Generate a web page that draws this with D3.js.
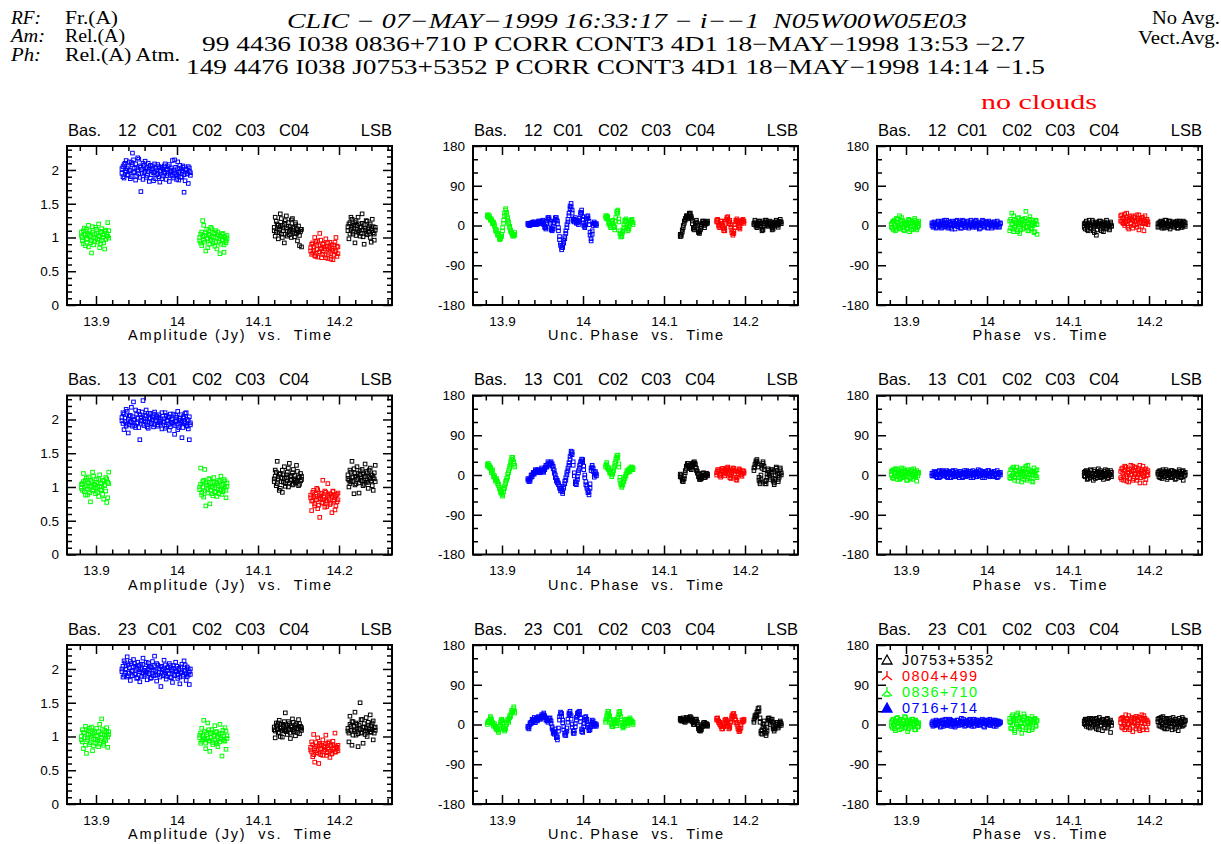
<!DOCTYPE html>
<html>
<head>
<meta charset="utf-8">
<script src="https://cdn.jsdelivr.net/npm/d3@7"></script>
<style>
  body { margin: 0; background: #fff; }
  svg text { font-family: "Liberation Sans", Arial, sans-serif; fill: #000; }
  svg text.serif { font-family: "Liberation Serif", "DejaVu Serif", serif; }
  .axis line { stroke: #000; stroke-width: 1.5; }
  .axis text { font-size: 13.5px; }
</style>
</head>
<body>
<svg id="chart" width="1221" height="844"></svg>
<script>
// ---- data ----
var baselines = ['12', '13', '23'];
var scanSources = ['0836+710', '0716+714', '0836+710', 'J0753+5352', '0804+499', 'J0753+5352'];
var legendSources = ['J0753+5352', '0804+499', '0836+710', '0716+714'];
var timeTicks = [13.9, 14, 14.1, 14.2];
var ampTicks = [0, 0.5, 1, 1.5, 2];
var phaseTicks = [-180, -90, 0, 90, 180];
var colLabels = ['Amplitude (Jy)  vs.  Time', 'Unc. Phase  vs.  Time', 'Phase  vs.  Time'];
var titleWords = ['Bas.', null, 'C01', 'C02', 'C03', 'C04'];

// integration times (hours) for each scan
var timesG1 = [13.8820, 13.8832, 13.8845, 13.8857, 13.8870, 13.8882, 13.8895, 13.8907, 13.8920, 13.8932, 13.8945, 13.8957, 13.8970, 13.8982,
               13.8995, 13.9007, 13.9020, 13.9032, 13.9045, 13.9057, 13.9070, 13.9082, 13.9095, 13.9107, 13.9120, 13.9132, 13.9145, 13.9157];
var timesB = [13.9320, 13.9333, 13.9346, 13.9359, 13.9372, 13.9385, 13.9398, 13.9411, 13.9424, 13.9437, 13.9450, 13.9463, 13.9476, 13.9489,
              13.9502, 13.9515, 13.9528, 13.9541, 13.9554, 13.9567, 13.9580, 13.9593, 13.9606, 13.9619, 13.9632, 13.9645, 13.9658, 13.9671,
              13.9684, 13.9697, 13.9710, 13.9723, 13.9736, 13.9749, 13.9762, 13.9775, 13.9788, 13.9801, 13.9814, 13.9827, 13.9840, 13.9853,
              13.9866, 13.9879, 13.9892, 13.9905, 13.9918, 13.9931, 13.9944, 13.9957, 13.9970, 13.9983, 13.9996, 14.0009, 14.0022, 14.0035,
              14.0048, 14.0061, 14.0074, 14.0087, 14.0100, 14.0113, 14.0126, 14.0139, 14.0152, 14.0165];
var timesG2 = [14.0280, 14.0292, 14.0305, 14.0317, 14.0330, 14.0342, 14.0355, 14.0367, 14.0380, 14.0392, 14.0405, 14.0417, 14.0430, 14.0442,
               14.0455, 14.0467, 14.0480, 14.0492, 14.0505, 14.0517, 14.0530, 14.0542, 14.0555, 14.0567, 14.0580, 14.0592, 14.0605, 14.0617];
var timesK1 = [14.1200, 14.1212, 14.1225, 14.1237, 14.1250, 14.1262, 14.1275, 14.1287, 14.1300, 14.1312, 14.1325, 14.1337, 14.1350, 14.1362,
               14.1375, 14.1387, 14.1400, 14.1412, 14.1425, 14.1437, 14.1450, 14.1462, 14.1475, 14.1487, 14.1500, 14.1512, 14.1525, 14.1537];
var timesR = [14.1650, 14.1662, 14.1675, 14.1687, 14.1700, 14.1712, 14.1725, 14.1737, 14.1750, 14.1762, 14.1775, 14.1787, 14.1800, 14.1812,
              14.1825, 14.1837, 14.1850, 14.1862, 14.1875, 14.1887, 14.1900, 14.1912, 14.1925, 14.1937, 14.1950, 14.1962, 14.1975, 14.1987];
var timesK2 = [14.2110, 14.2122, 14.2135, 14.2147, 14.2160, 14.2172, 14.2185, 14.2197, 14.2210, 14.2222, 14.2235, 14.2247, 14.2260, 14.2272,
               14.2285, 14.2297, 14.2310, 14.2322, 14.2335, 14.2347, 14.2360, 14.2372, 14.2385, 14.2397, 14.2410, 14.2422, 14.2435, 14.2447];
var scanTimes = [timesG1, timesB, timesG2, timesK1, timesR, timesK2];

// amplitudes (Jy), two sub-bands per baseline, one list per scan
var amp12a = [
  [1.02, 0.95, 1.10, 1.05, 0.88, 1.12, 0.98, 1.18, 1.03, 0.92, 0.77, 1.08, 1.00, 0.94, 1.15, 1.06, 0.97, 1.20, 1.01, 0.90, 1.09, 0.96, 1.04, 0.83, 1.11, 1.02, 1.22, 0.99],
  [1.95, 2.05, 1.88, 2.10, 1.99, 2.02, 1.92, 2.12, 2.00, 1.90, 2.08, 2.15, 1.97, 1.85, 2.03, 2.18, 1.94, 2.06, 1.68, 2.01, 2.10, 1.96, 2.13, 1.89, 2.04, 1.98, 1.83, 2.07, 1.93, 2.02, 1.96, 2.09, 1.87,
   2.00, 1.94, 2.05, 1.82, 1.98, 2.03, 1.91, 2.06, 1.97, 1.86, 2.01, 1.95, 2.08, 1.92, 1.99, 2.14, 1.88, 1.96, 2.04, 1.93, 2.12, 1.85, 1.98, 2.02, 1.90, 2.06, 1.67, 1.97, 2.00, 1.94, 1.80, 2.03, 1.96],
  [1.00, 0.92, 1.08, 1.25, 0.96, 1.03, 0.80, 1.12, 0.98, 1.05, 0.90, 1.15, 1.01, 0.94, 1.07, 0.87, 1.10, 0.99, 1.04, 0.93, 0.76, 1.02, 0.96, 1.06, 0.89, 1.00, 0.95, 1.03],
  [1.15, 1.30, 1.08, 1.20, 0.98, 1.12, 1.35, 1.05, 1.18, 1.10, 0.92, 1.25, 1.14, 1.02, 1.22, 1.09, 1.16, 1.00, 1.28, 1.11, 1.06, 1.19, 1.13, 0.95, 1.08, 0.88, 1.12, 0.86],
  [0.85, 0.75, 0.92, 0.80, 1.00, 0.72, 0.88, 0.95, 0.78, 1.06, 0.83, 0.70, 0.90, 0.86, 0.74, 0.98, 0.81, 0.69, 0.87, 0.93, 0.76, 0.84, 0.67, 0.89, 0.79, 1.00, 0.72, 0.86],
  [1.10, 0.98, 1.22, 1.30, 1.15, 1.05, 1.18, 0.92, 1.25, 1.12, 1.08, 1.20, 1.02, 1.16, 1.35, 1.11, 0.90, 1.14, 1.06, 1.24, 1.09, 1.17, 1.00, 1.13, 1.27, 1.07, 0.96, 1.15]
];
var amp12b = [
  [1.08, 1.00, 0.91, 1.14, 1.04, 0.97, 1.06, 0.86, 1.10, 1.01, 0.95, 1.16, 0.89, 1.05, 0.99, 1.12, 0.93, 1.03, 0.85, 1.07, 1.13, 1.00, 0.92, 1.09, 0.97, 1.06, 1.02, 1.10],
  [2.02, 1.90, 2.08, 1.97, 2.14, 1.93, 2.05, 1.99, 1.87, 2.11, 2.25, 1.96, 2.03, 2.09, 1.91, 2.00, 2.16, 1.89, 2.04, 1.95, 1.86, 2.07, 1.98, 2.02, 1.92, 2.10, 2.01, 1.88, 1.99, 2.06, 1.84, 1.97, 2.03,
   1.93, 2.08, 1.90, 1.99, 2.04, 1.87, 2.01, 1.95, 2.09, 2.00, 1.92, 2.05, 1.83, 1.97, 2.03, 1.91, 2.00, 2.15, 1.94, 1.86, 2.02, 1.96, 2.07, 1.89, 1.99, 2.04, 1.93, 1.84, 2.01, 1.95, 2.05, 1.98, 1.92],
  [0.95, 1.05, 0.88, 1.02, 1.18, 0.93, 1.07, 0.99, 0.85, 1.10, 1.03, 0.96, 1.13, 0.91, 1.00, 1.06, 0.94, 0.83, 1.08, 0.98, 1.02, 0.90, 1.05, 0.97, 0.78, 1.01, 0.92, 0.98],
  [1.10, 1.02, 1.24, 1.13, 1.18, 1.07, 1.16, 1.28, 1.00, 1.14, 1.21, 1.05, 1.32, 1.09, 1.17, 1.04, 1.12, 1.26, 1.08, 1.15, 1.01, 1.22, 1.06, 1.10, 1.17, 1.03, 1.09, 1.12],
  [0.80, 0.90, 0.77, 0.86, 0.73, 0.94, 0.82, 0.71, 0.88, 0.79, 0.96, 0.84, 0.75, 0.91, 0.83, 0.70, 0.87, 0.92, 0.78, 0.85, 0.68, 0.89, 0.81, 0.74, 0.93, 0.80, 0.87, 0.76],
  [1.16, 1.20, 1.05, 1.12, 1.27, 1.08, 1.14, 1.22, 1.03, 1.18, 1.30, 1.10, 1.15, 1.06, 1.21, 1.01, 1.19, 1.11, 1.25, 1.04, 1.13, 1.08, 1.20, 0.93, 1.10, 1.16, 1.05, 1.11]
];
var amp13a = [
  [0.98, 1.05, 1.20, 0.93, 1.10, 1.02, 0.88, 1.15, 1.00, 0.78, 1.08, 1.22, 0.96, 1.04, 0.90, 1.12, 1.01, 0.86, 1.18, 1.06, 0.95, 1.10, 0.82, 1.03, 1.14, 0.77, 1.07, 1.22],
  [1.98, 2.10, 1.85, 2.02, 2.15, 1.93, 1.80, 2.05, 1.97, 2.18, 1.90, 2.26, 2.00, 1.88, 2.08, 1.95, 2.12, 1.70, 2.03, 1.99, 2.28, 1.91, 2.06, 2.14, 1.96, 1.87, 2.01, 2.09, 1.94, 2.04, 1.89, 2.11, 1.98,
   2.02, 1.92, 2.07, 1.95, 2.00, 1.86, 2.05, 1.97, 2.10, 1.90, 1.99, 2.03, 1.84, 2.08, 1.96, 2.01, 1.93, 1.78, 2.06, 1.98, 2.12, 1.88, 2.02, 1.95, 1.73, 2.04, 1.97, 2.09, 1.91, 2.00, 1.86, 1.70, 1.95],
  [1.00, 1.28, 0.92, 1.08, 0.85, 1.26, 0.72, 1.03, 0.96, 1.12, 0.75, 1.05, 0.90, 0.99, 1.14, 0.93, 1.07, 0.86, 1.02, 1.10, 0.95, 1.16, 0.89, 1.04, 0.98, 1.09, 0.84, 1.01],
  [1.12, 1.25, 1.02, 1.38, 1.15, 0.95, 1.20, 1.08, 0.92, 1.18, 1.30, 1.05, 1.14, 1.22, 1.00, 1.35, 1.10, 1.17, 1.03, 1.26, 1.12, 1.06, 1.32, 1.09, 1.15, 1.04, 1.20, 1.11],
  [0.88, 0.65, 0.80, 0.95, 0.72, 0.86, 0.98, 0.68, 0.83, 0.55, 0.90, 0.76, 1.10, 0.82, 0.70, 0.92, 0.79, 1.05, 0.85, 0.74, 0.89, 0.62, 0.94, 0.81, 0.66, 0.87, 0.78, 0.91],
  [1.12, 1.00, 1.25, 1.08, 1.38, 1.15, 0.90, 1.20, 1.05, 1.30, 1.13, 0.91, 1.18, 1.10, 1.26, 1.02, 1.16, 1.34, 1.07, 1.21, 0.98, 1.14, 1.28, 1.09, 1.17, 0.95, 1.12, 1.32]
];
var amp13b = [
  [1.04, 0.95, 1.08, 1.00, 0.88, 1.13, 0.97, 1.06, 0.91, 1.10, 1.01, 0.94, 1.16, 1.03, 0.99, 1.07, 0.92, 1.11, 1.00, 0.96, 1.05, 0.89, 1.09, 1.02, 0.94, 1.12, 0.84, 1.05],
  [2.03, 1.94, 2.08, 1.97, 1.90, 2.12, 2.00, 1.92, 2.06, 1.96, 2.04, 1.99, 1.91, 2.14, 1.95, 2.02, 1.88, 2.07, 1.98, 2.11, 1.93, 2.01, 1.97, 2.05, 1.89, 2.09, 1.96, 2.02, 1.94, 2.00, 2.08, 1.92, 1.99,
   2.05, 1.90, 2.03, 1.97, 1.93, 2.10, 1.96, 2.01, 1.87, 2.06, 1.98, 1.92, 2.04, 1.89, 2.00, 1.95, 2.08, 1.91, 1.97, 2.03, 1.85, 1.99, 1.93, 2.07, 1.96, 1.88, 2.02, 1.94, 2.10, 1.90, 1.98, 2.04, 1.92],
  [0.96, 1.04, 0.88, 1.00, 1.10, 0.94, 1.06, 0.98, 0.91, 1.03, 1.12, 0.95, 1.01, 0.87, 1.07, 0.99, 0.92, 1.05, 0.97, 0.90, 1.08, 0.96, 1.02, 0.93, 1.11, 1.00, 0.95, 1.06],
  [1.08, 1.16, 1.22, 1.05, 1.12, 1.19, 0.98, 1.14, 1.25, 1.07, 1.13, 1.01, 1.18, 1.09, 1.28, 1.06, 1.15, 1.11, 1.21, 1.04, 1.17, 1.10, 1.08, 1.23, 1.02, 1.14, 1.09, 1.16],
  [0.84, 0.79, 0.92, 0.86, 0.75, 0.89, 0.81, 0.96, 0.73, 0.87, 0.83, 0.91, 0.77, 0.85, 0.94, 0.80, 0.71, 0.88, 0.82, 0.90, 0.76, 0.86, 0.93, 0.79, 0.84, 0.72, 0.89, 0.81],
  [1.18, 1.10, 1.05, 1.22, 1.14, 1.08, 1.27, 1.03, 1.16, 1.11, 1.20, 1.06, 1.24, 1.13, 1.09, 1.19, 1.04, 1.15, 1.23, 1.10, 1.07, 1.25, 1.12, 1.18, 1.02, 1.14, 1.21, 1.08]
];
var amp23a = [
  [0.95, 1.10, 0.82, 1.05, 1.15, 0.75, 0.98, 1.08, 0.88, 1.02, 1.14, 0.79, 0.96, 1.06, 0.90, 1.12, 1.00, 0.85, 1.18, 0.94, 1.26, 1.03, 0.87, 1.09, 0.97, 1.13, 0.84, 1.07],
  [2.00, 1.88, 2.12, 1.95, 2.05, 2.18, 1.90, 2.02, 1.83, 2.08, 1.97, 2.14, 1.92, 2.04, 1.86, 2.10, 1.99, 1.81, 2.07, 1.94, 2.16, 1.89, 2.01, 1.96, 1.84, 2.09, 1.93, 2.03, 1.87, 2.11, 1.98, 2.19, 1.91,
   1.82, 2.06, 1.95, 2.00, 1.74, 2.04, 1.90, 2.13, 1.97, 1.85, 2.02, 1.93, 2.08, 1.88, 1.99, 1.80, 2.05, 1.92, 2.10, 1.96, 1.86, 2.01, 1.78, 1.94, 2.07, 1.89, 2.12, 1.97, 1.83, 2.03, 1.91, 1.77, 2.00],
  [1.02, 0.90, 1.12, 0.95, 1.24, 0.98, 0.82, 1.06, 1.20, 0.93, 0.78, 1.04, 1.10, 0.88, 1.00, 1.16, 0.92, 1.07, 0.85, 1.03, 1.18, 0.96, 0.71, 1.09, 0.94, 1.13, 0.81, 1.01],
  [1.10, 0.98, 1.20, 1.15, 1.05, 1.24, 1.00, 1.12, 0.99, 1.18, 1.08, 1.35, 1.14, 1.03, 1.22, 1.10, 0.97, 1.16, 1.26, 1.07, 1.13, 1.01, 1.19, 1.11, 1.25, 1.04, 1.15, 1.09],
  [0.80, 0.92, 0.70, 1.03, 0.62, 0.85, 0.76, 0.98, 0.60, 0.88, 0.73, 0.82, 0.95, 0.78, 0.86, 1.02, 0.72, 0.90, 0.81, 0.69, 0.87, 0.75, 0.93, 0.83, 1.05, 0.77, 0.84, 0.79],
  [1.08, 0.92, 1.30, 1.15, 0.87, 1.22, 1.10, 1.36, 1.02, 1.18, 0.85, 1.12, 1.50, 1.05, 1.25, 0.90, 1.14, 1.08, 1.28, 1.00, 1.17, 1.10, 1.32, 1.06, 1.20, 0.95, 1.13, 1.09]
];
var amp23b = [
  [1.00, 0.92, 1.06, 0.98, 0.87, 1.10, 0.95, 1.03, 1.12, 0.91, 0.99, 1.05, 0.86, 1.08, 0.96, 1.01, 0.93, 1.07, 0.89, 1.04, 0.97, 1.11, 0.90, 1.02, 0.94, 1.06, 0.99, 1.03],
  [1.96, 2.04, 1.91, 2.09, 1.99, 1.88, 2.06, 1.94, 2.11, 1.97, 1.90, 2.03, 2.08, 1.93, 2.01, 1.87, 2.05, 1.96, 2.00, 1.89, 2.07, 1.98, 1.92, 2.10, 1.95, 1.99, 2.04, 1.86, 2.02, 1.94, 1.90, 2.05, 1.97,
   2.08, 1.91, 2.00, 1.88, 2.03, 1.95, 1.99, 1.92, 2.06, 1.89, 1.98, 2.02, 1.93, 2.05, 1.87, 1.97, 2.01, 1.90, 1.96, 2.04, 1.92, 1.99, 1.88, 2.03, 1.95, 1.91, 1.98, 2.06, 1.93, 1.89, 2.00, 1.96, 1.92],
  [0.98, 1.05, 0.93, 1.01, 0.96, 1.08, 0.90, 1.03, 0.97, 1.10, 0.94, 0.99, 1.06, 0.91, 1.02, 0.95, 1.07, 0.89, 1.00, 1.04, 0.92, 0.98, 1.05, 0.96, 1.01, 0.93, 1.08, 0.97],
  [1.14, 1.08, 1.17, 1.11, 1.20, 1.06, 1.13, 1.18, 1.09, 1.15, 1.22, 1.10, 1.07, 1.16, 1.12, 1.19, 1.05, 1.14, 1.10, 1.21, 1.08, 1.17, 1.12, 1.06, 1.15, 1.19, 1.11, 1.13],
  [0.84, 0.77, 0.88, 0.73, 0.82, 0.91, 0.79, 0.86, 0.75, 0.90, 0.81, 0.87, 0.72, 0.85, 0.80, 0.89, 0.76, 0.83, 0.92, 0.78, 0.86, 0.74, 0.88, 0.81, 0.77, 0.85, 0.82, 0.87],
  [1.12, 1.05, 1.18, 1.09, 1.22, 1.02, 1.15, 1.08, 1.20, 1.11, 1.04, 1.17, 1.10, 1.25, 1.06, 1.14, 1.19, 1.03, 1.12, 1.08, 1.21, 1.13, 1.07, 1.16, 1.10, 1.23, 1.05, 1.14]
];

// uncorrected phases (deg), two sub-bands
var uph12a = [
  [20, 24, 18, 15, 12, 8, 5, -2, -8, -14, -18, -22, -28, -30, -25, -12, 5, 22, 35, 30, 18, 8, -2, -10, -15, -20, -24, -22],
  [2, 5, 0, 3, 6, 4, 8, 5, 2, 6, 10, 7, 4, 8, 12, 6, -2, -8, 4, 15, 18, 10, -6, -12, -8, 5, 14, 18, 10, -5, -25, -40, -55,
   -50, -40, -30, -18, -5, 8, 22, 38, 50, 35, 15, 8, 18, 5, 12, 2, 10, 25, 35, 20, 5, -5, 2, 15, 22, 10, -15, -35, -20, 0, 5, 2, 4],
  [18, 22, 15, 8, 0, -5, 5, 12, 0, -10, 10, 28, 35, 15, -12, -22, -25, -15, -5, 8, 15, 2, -12, -8, 5, 12, 8, 2],
  [-25, -20, -15, -5, 5, 12, 18, 22, 15, 25, 28, 20, 10, -5, -10, 0, 8, 5, -12, -18, -10, -2, 5, 10, -5, 3, 8, 5],
  [12, 8, 2, -5, 5, 10, 0, -8, -12, 5, 18, 15, 8, 12, 2, -10, -22, -18, -5, 8, 15, 10, 0, -8, 5, 12, 8, 10],
  [5, 8, 2, -5, 0, 6, 10, 4, -8, -10, 0, 8, 12, 5, -2, 4, 10, 6, -5, -8, 2, 8, 12, 5, -4, 6, 14, 8]
];
var uph12b = [
  [24, 18, 22, 12, 15, 4, 8, 2, -12, -10, -22, -18, -32, -26, -20, -5, 12, 28, 38, 24, 12, 4, -6, -14, -18, -24, -20, -16],
  [5, 0, 4, 6, 2, 8, 5, 2, 6, 3, 7, 10, 8, 4, 9, 2, -5, -3, 10, 18, 14, 5, -10, -8, -2, 10, 18, 12, 4, -12, -32, -45, -50,
   -45, -35, -25, -12, 2, 14, 28, 44, 42, 28, 10, 14, 12, 10, 6, 8, 16, 30, 28, 14, 0, -2, 8, 20, 16, 2, -22, -30, -12, 4, 8, 5, 0],
  [22, 15, 20, 4, 5, -2, 10, 6, -5, -4, 18, 32, 28, 8, -18, -26, -20, -10, 2, 12, 10, -4, -8, -2, 10, 8, 14, 6],
  [-20, -24, -10, 0, 10, 16, 22, 18, 20, 28, 22, 16, 4, -8, -4, 6, 12, 0, -16, -14, -6, 2, 10, 6, 0, 8, 4, 10],
  [8, 14, -2, 0, 10, 5, -5, -12, -6, 10, 14, 20, 4, 8, -4, -16, -18, -12, 2, 12, 10, 5, -5, -2, 10, 8, 14, 5],
  [2, 12, -2, 0, 5, 10, 6, -2, -12, -4, 5, 12, 8, 0, 2, 8, 6, 0, -10, -2, 6, 4, 8, 0, 2, 10, 8, 4]
];
var uph13a = [
  [25, 20, 22, 15, 10, 8, 0, -5, -10, -8, -15, -20, -28, -35, -42, -45, -38, -25, -20, -12, -5, 5, 15, 25, 35, 40, 30, 22],
  [-12, -15, -10, -5, 0, 2, 5, 8, 10, 12, 8, 5, 10, 12, 8, 10, 12, 18, 22, 25, 22, 28, 30, 25, 20, 10, 0, -8, -12, -18, -25, -30, -35,
   -38, -30, -20, -12, 0, 10, 22, 35, 48, 52, 30, 5, -15, -22, -10, 5, 15, 25, 32, 35, 20, 0, -15, -25, -35, -45, -30, 10, 22, 15, -5, 5, 2],
  [22, 25, 18, 12, 8, 5, 0, 2, 10, 20, 30, 40, 45, 25, -5, -18, -25, -22, -15, -8, -2, 5, 10, 8, 12, 15, 18, 12],
  [2, -5, -10, -15, -8, 5, 15, 22, 26, 20, 15, 12, 22, 28, 30, 25, 15, 8, 2, -5, -10, -8, 0, 5, -2, -5, 0, 2],
  [5, 8, 12, 2, -5, 10, 15, 8, -2, 5, 12, 18, 10, 0, -8, 5, 12, 15, 8, -5, -12, 2, 10, 12, 5, -3, 5, 8],
  [10, 18, 28, 35, 25, -5, -20, -10, 15, 30, 20, -15, -20, -5, 10, 5, -5, 8, 12, -8, -22, -10, 15, 10, -15, -5, 12, 5]
];
var uph13b = [
  [20, 26, 16, 18, 5, 12, -4, -2, -14, -12, -20, -24, -32, -40, -38, -48, -32, -30, -14, -8, 2, 10, 20, 30, 40, 36, 26, 18],
  [-8, -10, -14, 0, -4, 6, 2, 12, 6, 8, 12, 9, 6, 16, 12, 6, 16, 22, 18, 30, 26, 24, 26, 20, 14, 4, -6, -14, -18, -22, -30, -36, -30,
   -42, -26, -14, -6, 6, 16, 28, 42, 54, 46, 22, -2, -20, -16, -4, 10, 22, 30, 36, 30, 12, -6, -22, -30, -40, -38, -20, 16, 18, 8, 0, 8, -2],
  [18, 28, 14, 16, 4, 8, -4, 6, 16, 26, 36, 44, 38, 18, -12, -22, -28, -16, -10, -4, 2, 10, 6, 14, 8, 18, 14, 16],
  [-4, 0, -14, -10, -2, 10, 20, 26, 22, 16, 20, 18, 26, 24, 26, 18, 10, 4, -4, -10, -6, -4, 4, 0, -6, 0, 4, -2],
  [0, 12, 8, -2, 2, 14, 10, 2, 4, 10, 16, 14, 4, -6, -2, 10, 16, 10, 2, -10, -6, 8, 14, 6, 0, 2, 10, 4],
  [16, 24, 32, 30, 18, -12, -16, 0, 22, 26, 12, -20, -12, 2, 14, 0, -10, 12, 6, -14, -18, 0, 18, 4, -10, 2, 16, 0]
];
var uph23a = [
  [0, 5, 10, 15, 12, 5, 0, -2, -5, -8, -12, -15, -10, 0, 10, 8, -5, -15, -10, 0, 8, 5, 15, 22, 28, 32, 36, 30],
  [-8, -5, 0, 5, 8, 10, 12, 8, 10, 12, 15, 12, 15, 18, 22, 26, 20, 15, 8, 5, 10, 15, 8, -5, -15, -22, -10, -25, -35, -15, 10, 28, 25,
   10, -5, -20, -25, -15, 5, 22, 30, 20, 0, -15, -20, -5, 10, 20, 28, 30, 15, -10, -18, -5, 10, 18, 12, 0, -10, -12, -5, 5, 8, 2, -2, 0],
  [5, 15, 25, 30, 20, 10, 0, -5, 5, 12, 8, -3, 10, 22, 30, 18, 5, -8, -5, 5, 12, 8, -2, 5, 15, 10, 3, 5],
  [10, 12, 8, 15, 10, 5, 12, 15, 8, 12, 18, 15, 10, 5, 0, 8, 12, 5, -5, -10, -15, -12, -5, 0, 5, 2, -3, 0],
  [10, 15, 8, 5, 0, -5, -10, -5, 5, 12, 8, 2, -5, -8, 5, 15, 20, 25, 18, 10, 5, -5, -12, -15, -8, 5, 10, 8],
  [5, 15, 22, 20, 30, 38, 15, -15, -22, -5, 8, -10, -25, -15, 10, 15, 5, 8, 12, -5, -15, -10, 0, 5, -8, -3, 5, 2]
];
var uph23b = [
  [4, 8, 6, 18, 8, 2, -4, 2, -8, -12, -8, -18, -4, 6, 12, 2, -10, -12, -4, 4, 12, 10, 20, 18, 32, 28, 40, 26],
  [-4, -10, 4, 2, 12, 6, 16, 4, 14, 8, 18, 16, 12, 22, 18, 22, 16, 10, 12, 10, 14, 10, 2, -10, -20, -16, -18, -30, -28, -8, 18, 24, 18,
   4, -12, -24, -18, -8, 12, 26, 24, 12, -6, -20, -14, 2, 16, 26, 24, 22, 6, -16, -12, 2, 16, 12, 6, -6, -14, -6, 0, 10, 2, -4, 2, -4],
  [10, 20, 30, 24, 14, 4, -4, 2, 10, 6, 2, 4, 16, 28, 24, 10, -2, -4, 2, 10, 6, 2, 4, 12, 10, 6, 8, 0],
  [14, 8, 12, 10, 6, 10, 16, 10, 12, 16, 12, 10, 6, 0, 4, 12, 8, 0, -10, -14, -10, -6, 0, 4, 0, -2, 2, -4],
  [14, 10, 4, 0, -4, -10, -4, 0, 10, 8, 4, -2, -10, -2, 10, 20, 24, 18, 12, 4, 0, -10, -16, -10, 0, 10, 6, 12],
  [10, 20, 18, 28, 36, 30, 5, -20, -12, 2, 0, -18, -20, -6, 14, 10, 0, 12, 6, -10, -10, -4, 4, 0, -4, 2, 8, -2]
];

// atmosphere-corrected phases (deg), two sub-bands
var pha12a = [
  [4, -6, 10, 0, -12, 16, 6, -4, 22, -8, 2, 12, -10, 4, 8, -6, 0, 14, -14, 6, 10, -2, -8, 12, 4, -10, 6, 0],
  [0, 4, -2, 6, 2, -4, 8, 0, 4, -6, 10, 2, -2, 6, 12, 0, -4, 8, 4, -8, 2, 6, 0, 10, -2, 4, 8, -6, 2, 12, 0, 6, -4,
   4, 10, -2, 0, 8, 2, -4, 6, 0, 12, -2, 4, -8, 2, 6, 0, 10, -4, 4, 8, -6, 2, 0, 6, -2, 4, 8, -4, 2, 0, 6, -2, 4],
  [10, -6, 28, 4, -14, 8, 0, -10, 16, 6, -18, 4, 12, -8, 2, 10, 32, -4, 6, -12, 14, 0, -6, 8, -16, 4, 12, -20],
  [-4, 6, 0, -10, 4, 12, -6, 2, 8, -12, 0, 4, -22, 6, -2, 10, -8, 0, 4, -14, 8, 2, -6, 6, 0, -10, 4, -2],
  [22, 10, 16, 4, 26, 8, 18, -4, 12, 20, 6, 14, -6, 18, 10, 2, 24, 12, -10, 16, 8, 18, 4, -12, 14, 6, 10, 2],
  [4, -2, 8, 0, -6, 6, 2, 12, -4, 4, 0, 10, -8, 2, 6, -2, 4, 8, 0, -6, 4, 10, 2, -4, 6, 0, 8, -2]
];
var pha12b = [
  [-4, 8, -10, 12, 4, -8, 14, 0, -6, 10, 18, -4, 6, -12, 2, 8, -8, 4, 12, -2, -10, 6, 0, 16, -6, 8, -4, 10],
  [6, -4, 8, 2, -6, 4, 10, -2, 0, 8, -4, 6, 12, -2, 4, -6, 8, 2, -4, 10, 0, 6, -8, 4, 12, -2, 2, 8, -6, 4, 10, 0, -4,
   8, 2, -6, 6, 12, -2, 4, 0, 10, -4, 6, 2, 8, -6, 4, 12, 0, -2, 8, 4, -4, 10, 2, 6, -6, 0, 8, 4, -2, 10, 2, -4, 6],
  [-12, 14, 4, -8, 22, -4, 12, 6, -14, 18, 2, -10, 8, 14, -6, 16, -2, 10, -12, 4, 20, -8, 12, 0, 6, -14, 10, 2],
  [4, -8, 10, 2, -12, 6, 0, -6, 12, -2, -16, 8, 2, -10, 4, 0, 10, -12, 6, -4, 2, -8, 12, -2, 4, -6, 8, 0],
  [10, 24, 6, 18, 0, 14, 28, 10, -8, 16, 4, 22, 12, 0, 20, 8, -4, 16, 24, 6, 12, -2, 18, 10, 22, 4, 14, 8],
  [-4, 6, 2, 10, -2, 8, -6, 4, 12, 0, -4, 6, 10, -2, 2, 8, -4, 6, 0, 10, -6, 4, 8, 0, -4, 10, 2, 6]
];
var pha13a = [
  [0, 10, -8, 6, 14, -4, 2, 12, -10, 4, 8, -6, 14, 0, -2, 10, -12, 6, 4, -8, 12, 2, -4, 8, 0, -14, 6, 4],
  [-2, 4, 0, 6, -4, 2, 8, -6, 0, 4, 10, -2, 2, 6, -4, 0, 8, 4, -6, 2, 10, 0, -4, 6, 2, -2, 8, 0, 4, -6, 6, 2, -4,
   10, 0, 4, -2, 8, 2, -6, 4, 0, 6, -4, 12, 2, -2, 4, 8, 0, -6, 4, 2, 10, -2, 0, 6, 4, -4, 8, 0, 2, -6, 4, 6, 0],
  [4, -8, 12, 0, 18, -6, 10, 2, -14, 6, 14, -4, 8, 0, -10, 16, 4, -12, 22, 2, -6, 10, 0, -16, 8, 4, -2, 12],
  [6, -4, 10, 0, -8, 4, 12, -2, 2, -12, 8, 0, 4, -6, 14, 2, -4, 6, 0, -10, 8, 4, -2, 10, -6, 2, 0, 6],
  [8, -10, 16, -4, 20, 0, -14, 12, 6, -8, 22, 2, -12, 10, 4, 18, -6, 0, 14, -18, 8, 2, 20, -4, 12, -10, 6, 0],
  [2, 8, -6, 4, 0, 12, -4, 6, 2, -10, 8, 0, 4, -6, 10, 2, -2, 6, -8, 4, 0, 12, -4, 2, 8, -12, 4, 0]
];
var pha13b = [
  [8, -6, 12, -2, 4, 14, -10, 6, 0, -8, 16, 2, -4, 10, 6, -12, 4, 12, -6, 8, 0, -10, 14, 2, -4, 10, -2, 6],
  [4, -2, 8, 0, 6, -6, 2, 10, -4, 6, 0, 8, -2, 4, 10, -6, 2, 6, 0, 8, -4, 4, 10, -2, 6, 0, -6, 8, 2, 4, -4, 10, 0,
   6, -2, 8, 4, -6, 2, 10, 0, 6, -4, 8, 2, -2, 10, 4, -6, 6, 0, 8, -2, 4, 10, -4, 2, 6, -2, 8, 0, 4, 10, -4, 2, 6],
  [-6, 12, -2, 16, 4, -12, 8, 18, 0, -6, 10, 4, -16, 14, 2, -4, 20, 6, -8, 12, 0, 8, -14, 6, 16, -2, 10, -6],
  [-2, 8, 4, -10, 6, 0, -6, 10, 4, -4, 12, -8, 2, 8, -2, 6, 10, -6, 4, 0, -4, 12, 2, -8, 6, 0, 10, -4],
  [-6, 14, 4, -12, 10, 18, -4, 6, -16, 12, 0, 8, 20, -8, 16, 2, -12, 10, 4, 22, -6, 12, -2, 8, -18, 14, 0, 10],
  [6, -4, 10, 0, -8, 4, 8, -2, 12, 2, -6, 6, 0, 10, -4, 4, 8, -10, 2, 6, -4, 8, 0, -6, 4, 10, -2, 6]
];
var pha23a = [
  [6, -8, 12, 0, -14, 4, 16, -4, 8, 2, -10, 10, 0, 18, -6, 4, -16, 8, 2, -4, 12, 0, 6, -12, 10, 2, -6, 4],
  [0, -4, 4, 2, -2, 6, 0, 8, -6, 4, 2, -4, 10, 0, 6, -2, 4, 12, -4, 2, 8, 0, -6, 4, 10, 2, -2, 6, 14, 0, 4, -4, 8,
   2, 6, -2, 12, 0, 4, 8, -4, 2, 10, 6, 0, -2, 8, 4, 12, 2, -6, 6, 0, 10, 4, -2, 8, 2, 6, -4, 10, 0, 4, 8, 2, 6],
  [14, 4, -10, 22, 8, -14, 12, 0, 26, -6, 16, 4, -20, 10, 2, 18, -8, 6, 12, -4, 0, 12, -12, 8, 4, 14, -2, 10],
  [8, 0, 12, 4, -6, 10, 2, 14, -4, 6, 12, 0, -10, 8, 4, 16, -2, 6, -14, 10, 0, 4, 12, -8, 2, 6, -18, 4],
  [4, 14, -8, 10, 0, 22, -6, 12, 2, -12, 8, 16, -4, 6, 14, -10, 18, 0, 8, -14, 12, 4, -6, 20, 2, 10, -12, 6],
  [6, 14, -4, 10, 0, 18, -8, 4, 12, -10, 8, 2, 14, -6, 4, 16, 0, -10, 8, 4, -14, 10, 2, 6, -4, 12, 0, 8]
];
var pha23b = [
  [-4, 10, 0, -10, 8, 14, -6, 4, -12, 12, 2, -4, 8, -8, 16, 0, 6, -10, 10, 4, -6, 12, -2, 8, -12, 6, 2, -4],
  [4, 8, -2, 6, 10, 0, 6, 2, 8, -4, 10, 4, 0, 12, -2, 6, 8, 0, 10, 4, -4, 8, 6, 2, -2, 10, 4, 8, 0, 6, 12, 2, -2,
   8, 4, 10, 0, 6, -4, 8, 12, 2, 6, -2, 10, 4, 0, 8, 6, -4, 10, 2, 8, 4, 0, 12, -2, 6, 10, 2, 4, -4, 8, 0, 6, 4],
  [6, -8, 18, 0, 12, -18, 8, 22, -4, 14, -10, 16, 4, -6, 24, 10, -12, 14, 2, -14, 12, 6, 18, -8, 4, 12, -4, 8],
  [2, 12, -4, 10, 6, 14, -8, 4, 12, 0, 8, -6, 14, 2, -12, 10, 6, -2, 12, 4, -8, 8, 0, 14, -4, 6, 10, -2],
  [12, -6, 16, 4, -12, 8, 14, 0, 20, -8, 12, 6, -16, 14, 2, 18, -4, 10, -10, 16, 4, 22, -12, 8, 14, -6, 10, 2],
  [12, -2, 8, 16, -6, 4, 14, -10, 6, 0, 14, -4, 10, 4, -12, 8, 2, 12, -6, 6, 0, 14, -4, 8, 16, -2, 6, 10]
];

var ampData = { '12': [amp12a, amp12b], '13': [amp13a, amp13b], '23': [amp23a, amp23b] };
var uphData = { '12': [uph12a, uph12b], '13': [uph13a, uph13b], '23': [uph23a, uph23b] };
var phaData = { '12': [pha12a, pha12b], '13': [pha13a, pha13b], '23': [pha23a, pha23b] };

// ---- styles / layout ----
var sourceColor = { '0836+710': '#00ff00', '0716+714': '#0000ff', 'J0753+5352': '#000000', '0804+499': '#ff0000' };
var colLeft = [67, 473, 877];
var rowTop = [146, 395.5, 645];
var panelW = 325, panelH = 159;
var titleOffsets = [1, 51, 80, 125, 168, 212];
var labelWidths = [203, 175, 134];
var mark = 3.6;

var svg = d3.select('#chart');

var x = d3.scaleLinear().domain([13.8642, 14.2654]).range([0, panelW]);
var yAmp = d3.scaleLinear().domain([0, 2.355]).range([panelH, 0]);
var yPha = d3.scaleLinear().domain([-180, 180]).range([panelH, 0]);

var timeMinor = d3.range(13.88, 14.27, 0.02).filter(function(t) {
  return timeTicks.every(function(m) { return Math.abs(m - t) > 1e-6; });
});
var ampMinor = d3.range(0.1, 2.35, 0.1).filter(function(v) { return Math.abs(v * 2 - Math.round(v * 2)) > 1e-6; });
var phaseMinor = [-150, -120, -60, -30, 30, 60, 120, 150];

// flatten sub-band lists into points
function toPoints(lists) {
  var pts = [];
  lists.forEach(function(vals) {
    scanTimes.forEach(function(ts, s) {
      ts.forEach(function(t, i) {
        var v = vals[s][i];
        if (v != null) pts.push({ t: t, v: v, src: scanSources[s] });
      });
    });
  });
  return pts;
}

function drawAxes(g, y, major, minor) {
  var fmt = function(d) { return String(d); };
  function clean(sel) { sel.select('.domain').remove(); }
  // bottom
  g.append('g').attr('class', 'axis').attr('transform', 'translate(0,' + panelH + ')')
    .call(d3.axisBottom(x).tickValues(timeTicks).tickSize(-9).tickPadding(11).tickFormat(fmt)).call(clean);
  g.append('g').attr('class', 'axis').attr('transform', 'translate(0,' + panelH + ')')
    .call(d3.axisBottom(x).tickValues(timeMinor).tickSize(-5).tickFormat('')).call(clean);
  // top
  g.append('g').attr('class', 'axis')
    .call(d3.axisTop(x).tickValues(timeTicks).tickSize(-9).tickFormat('')).call(clean);
  g.append('g').attr('class', 'axis')
    .call(d3.axisTop(x).tickValues(timeMinor).tickSize(-5).tickFormat('')).call(clean);
  // left
  g.append('g').attr('class', 'axis')
    .call(d3.axisLeft(y).tickValues(major).tickSize(-9).tickPadding(8).tickFormat(fmt)).call(clean);
  g.append('g').attr('class', 'axis')
    .call(d3.axisLeft(y).tickValues(minor).tickSize(-5).tickFormat('')).call(clean);
  // right
  g.append('g').attr('class', 'axis').attr('transform', 'translate(' + panelW + ',0)')
    .call(d3.axisRight(y).tickValues(major).tickSize(-9).tickFormat('')).call(clean);
  g.append('g').attr('class', 'axis').attr('transform', 'translate(' + panelW + ',0)')
    .call(d3.axisRight(y).tickValues(minor).tickSize(-5).tickFormat('')).call(clean);

  g.append('rect').attr('width', panelW).attr('height', panelH)
    .attr('fill', 'none').attr('stroke', '#000').attr('stroke-width', 2);
}

baselines.forEach(function(bas, r) {
  [0, 1, 2].forEach(function(c) {
    var g = svg.append('g').attr('transform', 'translate(' + colLeft[c] + ',' + rowTop[r] + ')');
    var y = c === 0 ? yAmp : yPha;
    var lists = c === 0 ? ampData[bas] : (c === 1 ? uphData[bas] : phaData[bas]);

    drawAxes(g, y, c === 0 ? ampTicks : phaseTicks, c === 0 ? ampMinor : phaseMinor);

    g.append('g').selectAll('rect')
      .data(toPoints(lists))
      .enter().append('rect')
        .attr('x', function(d) { return x(d.t) - mark / 2; })
        .attr('y', function(d) { return y(d.v) - mark / 2; })
        .attr('width', mark)
        .attr('height', mark)
        .attr('fill', 'none')
        .attr('stroke', function(d) { return sourceColor[d.src]; })
        .attr('stroke-width', 1);

    // titles
    g.selectAll('text.ttl').data(titleWords).enter().append('text')
      .attr('class', 'ttl')
      .attr('x', function(d, i) { return titleOffsets[i]; })
      .attr('y', -10.5)
      .attr('font-size', 16.5)
      .text(function(d) { return d === null ? bas : d; });
    g.append('text').attr('x', panelW).attr('y', -10.5)
      .attr('font-size', 16.5).attr('text-anchor', 'end')
      .text('LSB');
    g.append('text').attr('x', panelW / 2).attr('y', panelH + 35)
      .attr('font-size', 14.5).attr('text-anchor', 'middle')
      .attr('textLength', labelWidths[c])
      .style('white-space', 'pre')
      .text(colLabels[c]);

    // legend in last panel
    if (r === 2 && c === 2) {
      var lg = g.selectAll('g.leg').data(legendSources).enter().append('g')
        .attr('class', 'leg')
        .attr('transform', function(d, i) { return 'translate(10,' + (15 + i * 16) + ')'; });
      lg.append('path')
        .attr('d', function(d, i) {
          if (i === 0 || i === 3) return 'M0,-5L5,4L-5,4Z';
          if (i === 1) return 'M0,-5L0,0M0,0L-5,4M0,0L5,4';
          return 'M0,-5L0,-1M-5,4L0,-1L5,4M-3,4L3,4';
        })
        .attr('fill', function(d, i) { return i === 3 ? sourceColor[d] : 'none'; })
        .attr('stroke', function(d) { return sourceColor[d]; })
        .attr('stroke-width', 1.3);
      lg.append('text')
        .attr('x', 15).attr('y', 5)
        .attr('font-size', 14.5)
        .attr('textLength', function(d, i) { return i === 0 ? 91 : 75; })
        .style('fill', function(d) { return sourceColor[d]; })
        .text(function(d) { return d; });
    }
  });
});

// ---- header ----
var header = [
  { text: 'RF:', x: 11, y: 24, w: 30, italic: true },
  { text: 'Am:', x: 11, y: 42, w: 34, italic: true },
  { text: 'Ph:', x: 11, y: 61, w: 30, italic: true },
  { text: 'Fr.(A)', x: 65, y: 24, w: 53 },
  { text: 'Rel.(A)', x: 65, y: 42, w: 60 },
  { text: 'Rel.(A) Atm.', x: 65, y: 61, w: 115 }
];
header.forEach(function(h) {
  svg.append('text').attr('class', 'serif')
    .attr('x', h.x).attr('y', h.y).attr('font-size', 18)
    .attr('font-style', h.italic ? 'italic' : null)
    .attr('textLength', h.w).attr('lengthAdjust', 'spacingAndGlyphs')
    .text(h.text);
});

var titleLines = [
  { text: 'CLIC \u2212 07\u2212MAY\u22121999 16:33:17 \u2212 i\u2212\u22121  N05W00W05E03', x: 287, y: 28, w: 680, italic: true },
  { text: '99 4436 I038 0836+710 P CORR CONT3 4D1 18\u2212MAY\u22121998 13:53 \u22122.7', x: 202, y: 51, w: 823 },
  { text: '149 4476 I038 J0753+5352 P CORR CONT3 4D1 18\u2212MAY\u22121998 14:14 \u22121.5', x: 186, y: 74, w: 859 }
];
titleLines.forEach(function(l) {
  svg.append('text').attr('class', 'serif')
    .attr('x', l.x).attr('y', l.y).attr('font-size', 21)
    .attr('font-style', l.italic ? 'italic' : null)
    .attr('textLength', l.w).attr('lengthAdjust', 'spacingAndGlyphs')
    .style('white-space', 'pre')
    .text(l.text);
});

svg.append('text').attr('class', 'serif').attr('x', 1152).attr('y', 24)
  .attr('font-size', 18).attr('textLength', 68).attr('lengthAdjust', 'spacingAndGlyphs').text('No Avg.');
svg.append('text').attr('class', 'serif').attr('x', 1138).attr('y', 44)
  .attr('font-size', 18).attr('textLength', 82).attr('lengthAdjust', 'spacingAndGlyphs').text('Vect.Avg.');
svg.append('text').attr('class', 'serif').attr('x', 981).attr('y', 109)
  .attr('font-size', 20).attr('textLength', 116).attr('lengthAdjust', 'spacingAndGlyphs')
  .style('fill', '#ff0000').text('no clouds');
</script>
</body>
</html>
